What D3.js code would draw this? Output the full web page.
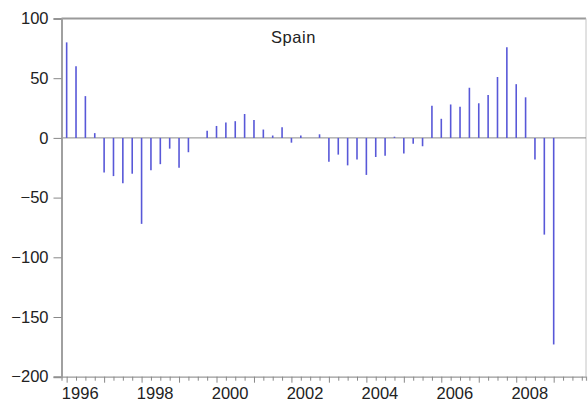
<!DOCTYPE html>
<html>
<head>
<meta charset="utf-8">
<script src="https://cdn.jsdelivr.net/npm/d3@7"></script>
<style>
  body { margin: 0; background: #fff; }
  svg { display: block; font-family: "Liberation Sans", Arial, sans-serif; }
</style>
</head>
<body>
<div id="chart"></div>
<script>
// quarterly series, 1996Q1 .. 2009Q1
const startYear = 1996;
const values = [80, 60, 35, 4, -29, -32, -38, -30, -72, -27, -22, -9, -25, -12, 0, 6,
  10, 13, 14, 20, 15, 7, 2, 9, -4, 2, 0, 3, -20, -14, -23, -18, -31, -16, -15, 1,
  -13, -5, -7, 27, 16, 28, 26, 42, 29, 36, 51, 76, 45, 34, -18, -81, -173];
const yTicks = [100, 50, 0, -50, -100, -150, -200];
const yearLabels = [1996, 1998, 2000, 2002, 2004, 2006, 2008];
const title = "Spain";

const width = 588, height = 409;
const mLeft = 61.5, mRight = 586, mTop = 18.5, mBottom = 376.7;

const svg = d3.select("#chart").append("svg")
  .attr("width", width)
  .attr("height", height);

const x = d3.scaleLinear().domain([1996, 2010]).range([mLeft, mRight]);
const y = d3.scaleLinear().domain([-200, 100]).range([mBottom, mTop]);

const data = values.map((v, i) => ({ t: startYear + (i + 0.55) / 4, v: v }));

// frame
svg.append("line").attr("x1", mLeft).attr("x2", mRight).attr("y1", mTop).attr("y2", mTop)
  .attr("stroke", "#9a9a9a").attr("stroke-width", 2);
svg.append("line").attr("x1", mRight).attr("x2", mRight).attr("y1", mTop).attr("y2", mBottom)
  .attr("stroke", "#c4c4c4").attr("stroke-width", 1);

// zero line
svg.append("line").attr("x1", mLeft).attr("x2", mRight).attr("y1", y(0)).attr("y2", y(0))
  .attr("stroke", "#8a8a8a").attr("stroke-width", 1);

// y axis
const yAxis = svg.append("g")
  .attr("transform", `translate(${mLeft},0)`)
  .call(d3.axisLeft(y).tickValues(yTicks).tickSize(8).tickPadding(5));
yAxis.select(".domain").attr("stroke", "#a0a0a0").attr("stroke-width", 2);
yAxis.selectAll(".tick line").attr("stroke", "#888");
yAxis.selectAll("text").attr("font-size", 16.5).attr("fill", "#222")
  .attr("font-family", "Liberation Sans, Arial, sans-serif");

// x axis: quarter ticks, year labels centred on each year
const quarterTicks = d3.range(1996, 2010, 0.25).map(t => t + 0.55 / 4);
const xAxis = svg.append("g")
  .attr("transform", `translate(0,${mBottom})`)
  .call(d3.axisBottom(x).tickValues(quarterTicks).tickSize(4).tickFormat(""));
xAxis.select(".domain").attr("stroke", "#999").attr("stroke-width", 1.2);
xAxis.selectAll(".tick line")
  .attr("stroke", "#888")
  .attr("y2", (d, i) => i % 4 === 0 ? 6 : 4);

svg.append("g")
  .selectAll("text")
  .data(yearLabels)
  .join("text")
  .attr("x", d => x(d + 0.5))
  .attr("y", 399)
  .attr("text-anchor", "middle")
  .attr("font-size", 16.5)
  .attr("fill", "#222")
  .text(d => d);

// spikes
svg.append("g")
  .selectAll("line")
  .data(data)
  .join("line")
  .attr("x1", d => x(d.t))
  .attr("x2", d => x(d.t))
  .attr("y1", y(0))
  .attr("y2", d => y(d.v))
  .attr("stroke", "#5858d8")
  .attr("stroke-width", 1.6);

// title
svg.append("text")
  .attr("x", 293.5)
  .attr("y", 43)
  .attr("text-anchor", "middle")
  .attr("font-size", 16.5)
  .attr("letter-spacing", 0.6)
  .attr("fill", "#222")
  .text(title);
</script>
</body>
</html>
